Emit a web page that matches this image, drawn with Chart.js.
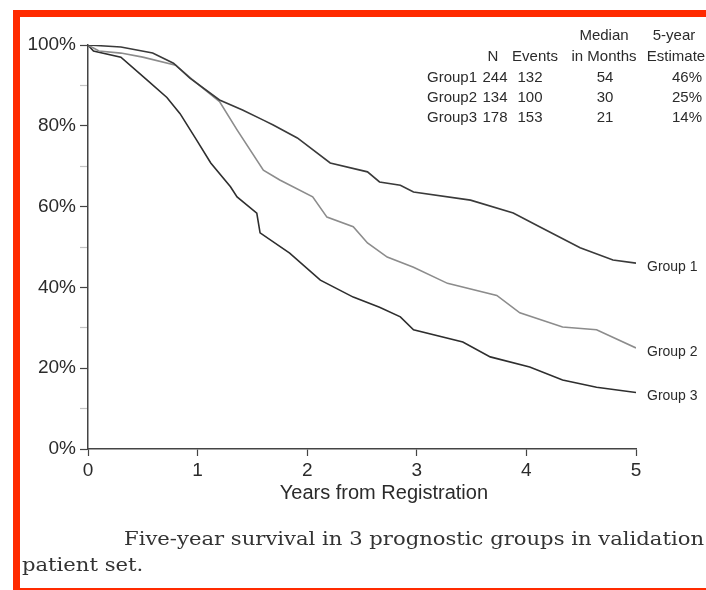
<!DOCTYPE html>
<html>
<head>
<meta charset="utf-8">
<script src="https://cdn.jsdelivr.net/npm/chart.js@4.4.1/dist/chart.umd.min.js"></script>
<style>
  html, body { margin: 0; padding: 0; background: #fff; overflow: hidden; }
  #wrap { position: relative; width: 706px; height: 590px; }
  #survival { position: absolute; left: 0; top: 0; }
  #frame {
    position: absolute; left: 13px; top: 10px; width: 720px; height: 585px;
    border: 7px solid #ff2a00; box-sizing: border-box; pointer-events: none;
  }
</style>
</head>
<body>
<div id="wrap">
  <canvas id="survival" width="706" height="590"></canvas>
  <div id="frame"></div>
</div>
<script>
// Kaplan-Meier estimates, years from registration vs. percent surviving
const group1Years = [0, 0.30, 0.59, 0.78, 0.93, 1.20, 1.41, 1.60, 1.69, 1.91, 2.21, 2.55, 2.66, 2.85, 2.97, 3.49, 3.88, 4.12, 4.49, 4.79, 5.00];
const group1Surv  = [100, 99.5, 98, 95.5, 91.8, 86.4, 83.9, 81.4, 80.2, 77.0, 70.8, 68.6, 66.1, 65.3, 63.6, 61.6, 58.4, 55.0, 49.8, 46.8, 46];

const group2Years = [0, 0.10, 0.30, 0.50, 0.80, 0.95, 1.20, 1.36, 1.60, 1.75, 2.05, 2.18, 2.42, 2.55, 2.73, 2.97, 3.28, 3.73, 3.94, 4.33, 4.64, 5.00];
const group2Surv  = [100, 98.5, 98, 97, 95, 91.5, 86, 79, 69, 66.6, 62.4, 57.4, 55, 51, 47.5, 45, 41, 38, 33.7, 30.2, 29.5, 25];

const group3Years = [0, 0.05, 0.30, 0.54, 0.72, 0.84, 0.99, 1.12, 1.30, 1.36, 1.54, 1.57, 1.84, 2.12, 2.42, 2.66, 2.85, 2.97, 3.42, 3.67, 4.03, 4.33, 4.64, 5.00];
const group3Surv  = [100, 98.5, 97, 91.3, 87, 83, 76.5, 70.8, 64.9, 62.4, 58.4, 53.5, 48.5, 41.8, 37.6, 35.1, 32.7, 29.5, 26.5, 22.8, 20.3, 17.1, 15.3, 14];

const groupNames = ['Group1', 'Group2', 'Group3'];
const endLabels = ['Group 1', 'Group 2', 'Group 3'];
const groupN = [244, 134, 178];
const groupEvents = [132, 100, 153];
const medianMonths = [54, 30, 21];
const fiveYearEst = ['46%', '25%', '14%'];

const yearTicks = [0, 1, 2, 3, 4, 5];

const ink = '#2b2b2b';
const sans = "'Liberation Sans', Arial, sans-serif";

function toPoints(xs, ys) {
    return xs.map((x, i) => ({ x: x, y: ys[i] }));
}

// summary table, axis title, curve end labels and the caption underneath
const annotations = {
    id: 'annotations',
    afterDraw(chart) {
        const ctx = chart.ctx;
        const xs = chart.scales.x;
        const ys = chart.scales.y;
        ctx.save();
        ctx.fillStyle = ink;
        ctx.textBaseline = 'middle';

        // table
        ctx.font = '15px ' + sans;
        ctx.textAlign = 'center';
        ctx.fillText('Median', 604, 36);
        ctx.fillText('5-year', 674, 36);
        ctx.fillText('N', 493, 57);
        ctx.fillText('Events', 535, 57);
        ctx.fillText('in Months', 604, 57);
        ctx.fillText('Estimate', 676, 57);
        groupNames.forEach((name, i) => {
            const y = 78 + i * 20;
            ctx.textAlign = 'left';
            ctx.fillText(name, 427, y);
            ctx.textAlign = 'center';
            ctx.fillText(String(groupN[i]), 495, y);
            ctx.fillText(String(groupEvents[i]), 530, y);
            ctx.fillText(String(medianMonths[i]), 605, y);
            ctx.fillText(fiveYearEst[i], 687, y);
        });

        // x axis title, set a little right of the axis centre
        ctx.font = '20px ' + sans;
        ctx.textAlign = 'center';
        ctx.fillText('Years from Registration', xs.getPixelForValue(2.7), 493);

        // labels at the end of each curve
        ctx.font = '14px ' + sans;
        ctx.textAlign = 'left';
        const ends = [group1Surv, group2Surv, group3Surv].map(s => s[s.length - 1]);
        ends.forEach((v, i) => {
            ctx.fillText(endLabels[i], xs.right + 11, ys.getPixelForValue(v) + 4);
        });

        // caption, squeezed to the page width
        ctx.font = "19px 'DejaVu Serif', 'Liberation Serif', serif";
        ctx.fillStyle = '#333';
        const line1 = 'Five-year survival in 3 prognostic groups in validation';
        const w = ctx.measureText(line1).width;
        const sx = 580 / w;
        ctx.translate(124, 540);
        ctx.scale(sx, 1);
        ctx.fillText(line1, 0, 0);
        ctx.setTransform(1, 0, 0, 1, 0, 0);
        ctx.translate(22, 566);
        ctx.scale(sx, 1);
        ctx.fillText('patient set.', 0, 0);
        ctx.restore();
    }
};

const lineStyle = { borderWidth: 1.6, pointRadius: 0, tension: 0, fill: false };

new Chart(document.getElementById('survival'), {
    type: 'line',
    data: {
        datasets: [
            Object.assign({ label: 'Group 1', data: toPoints(group1Years, group1Surv), borderColor: '#3a3a3a' }, lineStyle),
            Object.assign({ label: 'Group 2', data: toPoints(group2Years, group2Surv), borderColor: '#8c8c8c' }, lineStyle),
            Object.assign({ label: 'Group 3', data: toPoints(group3Years, group3Surv), borderColor: '#2e2e2e' }, lineStyle)
        ]
    },
    options: {
        responsive: false,
        animation: false,
        layout: { padding: { left: 0, top: 45, right: 70, bottom: 71 } },
        plugins: {
            legend: { display: false },
            tooltip: { enabled: false }
        },
        scales: {
            x: {
                type: 'linear',
                min: 0,
                max: 5,
                afterFit: s => { s.height = 70; },
                afterBuildTicks: s => { s.ticks = yearTicks.map(v => ({ value: v })); },
                ticks: { color: ink, font: { family: sans, size: 19 }, padding: 3 },
                grid: { drawOnChartArea: false, tickLength: 7, tickColor: '#444', tickWidth: 1.2 },
                border: { color: '#444', width: 1.5 }
            },
            y: {
                min: 0,
                max: 100,
                afterFit: s => { s.width = 88; },
                ticks: {
                    stepSize: 10,
                    color: ink,
                    font: { family: sans, size: 19 },
                    padding: 4,
                    callback: v => (v % 20 === 0 ? v + '%' : '')
                },
                grid: {
                    drawOnChartArea: false,
                    tickLength: 8,
                    tickWidth: 1.2,
                    tickColor: c => (c.tick && c.tick.value % 20 ? '#c4c4c4' : '#444')
                },
                border: { color: '#444', width: 1.5 }
            }
        }
    },
    plugins: [annotations]
});
</script>
</body>
</html>
